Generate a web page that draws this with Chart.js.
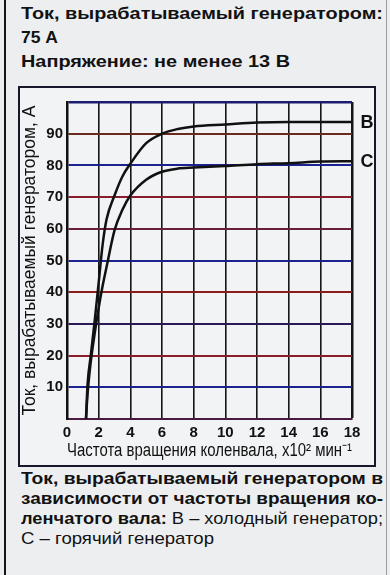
<!DOCTYPE html>
<html>
<head>
<meta charset="utf-8">
<script src="https://cdn.jsdelivr.net/npm/chart.js@4.4.1/dist/chart.umd.min.js"></script>
<style>
html, body { margin: 0; padding: 0; }
body {
    width: 390px; height: 575px; position: relative; overflow: hidden;
    background: #eceef0; color: #121212;
    font-family: "Liberation Sans", Arial, sans-serif;
}
.frameL { position: absolute; left: 4px; top: 0; width: 2px; height: 575px; background: #151515; }
.frameR { position: absolute; left: 386px; top: 0; width: 1px; height: 575px; background: #9c9c9c; }
.line { position: absolute; left: 21px; font-size: 17px; white-space: nowrap; transform-origin: 0 0; }
.b { font-weight: bold; }
.box {
    position: absolute; left: 18px; top: 86px; width: 354px; height: 377px;
    border: 2px solid #16162c; background: #f2f3f5;
}
#generatorChart { display: block; }
</style>
</head>
<body>
<div class="frameL"></div>
<div class="frameR"></div>

<div class="line b" data-w="362" style="top:4px">Ток, вырабатываемый генератором:</div>
<div class="line b" data-w="37" style="top:28px">75 А</div>
<div class="line b" data-w="269" style="top:52px">Напряжение: не менее 13 В</div>

<div class="box"><canvas id="generatorChart" width="354" height="377"></canvas></div>

<div class="line b" data-w="362" style="top:469px">Ток, вырабатываемый генератором в</div>
<div class="line b" data-w="362" style="top:489px">зависимости от частоты вращения ко-</div>
<div class="line" data-w="362" style="top:509px"><span class="b">ленчатого вала:</span> В – холодный генератор;</div>
<div class="line" data-w="193" style="top:529px">С – горячий генератор</div>

<script>
// частота вращения, x100 мин-1
const rpm = [1.2, 1.3, 1.5, 1.75, 2, 2.25, 2.5, 3, 3.5, 4, 5, 6, 7, 8, 10, 12, 14, 16, 18];
// B - холодный генератор, А
const coldB = [0, 11, 20, 31, 43, 55, 63, 70.5, 76.5, 80.5, 87, 90, 91.5, 92.3, 92.9, 93.5, 93.7, 93.7, 93.7];
// C - горячий генератор, А
const hotC = [0, 8, 18, 27, 35, 42, 48, 59.5, 66, 70.5, 75.5, 78, 79, 79.3, 79.8, 80.4, 80.7, 81.2, 81.3];
const seriesNames = ['B', 'C'];

const gridColors = {
    0: '#3c1a48', 10: '#1c2290', 20: '#8a1c2c', 30: '#2a1a5a', 40: '#8a1c1c', 50: '#1c2290',
    60: '#6a1c3c', 70: '#8a1c2c', 80: '#1c2290', 90: '#6a2a1c', 100: '#1c1c70'
};

// растянуть строки текста по ширине, как в скане
document.querySelectorAll('.line').forEach(el => {
    const w = el.getBoundingClientRect().width;
    el.style.transform = 'scaleX(' + (parseFloat(el.dataset.w) / w) + ')';
});

const ctxGenerator = document.getElementById('generatorChart');

const dataGenerator = {
    datasets: [
        {
            label: seriesNames[0],
            data: rpm.map((x, i) => ({ x: x, y: coldB[i] })),
            borderColor: '#111',
            borderWidth: 2.5,
            pointRadius: 0,
            cubicInterpolationMode: 'monotone'
        },
        {
            label: seriesNames[1],
            data: rpm.map((x, i) => ({ x: x, y: hotC[i] })),
            borderColor: '#111',
            borderWidth: 2.5,
            pointRadius: 0,
            cubicInterpolationMode: 'monotone'
        }
    ]
};

// буквы B и C справа от кривых
const curveLabels = {
    id: 'curveLabels',
    afterDatasetsDraw(chart) {
        const c = chart.ctx;
        c.save();
        c.font = 'bold 18px "Liberation Sans", Arial, sans-serif';
        c.fillStyle = '#111';
        c.textAlign = 'center';
        c.textBaseline = 'middle';
        chart.data.datasets.forEach((ds, i) => {
            const pts = chart.getDatasetMeta(i).data;
            const last = pts[pts.length - 1];
            c.fillText(ds.label, chart.chartArea.right + 15, last.y + 1);
        });
        c.restore();
    }
};

const configGenerator = {
    type: 'line',
    data: dataGenerator,
    plugins: [curveLabels],
    options: {
        responsive: false,
        animation: false,
        layout: { padding: { top: 14, right: 22, left: 0, bottom: 0 } },
        plugins: {
            legend: { display: false },
            tooltip: { enabled: false }
        },
        scales: {
            x: {
                type: 'linear',
                min: 0,
                max: 18,
                afterFit: s => { s.height = 46; },
                ticks: {
                    stepSize: 2,
                    padding: 5,
                    color: '#111',
                    font: { family: '"Liberation Sans", Arial, sans-serif', size: 15, weight: 'bold' }
                },
                grid: {
                    drawTicks: false,
                    color: '#151515',
                    lineWidth: c => (c.tick && c.tick.value === 18 ? 2.5 : 1.6)
                },
                border: { color: '#4a1a40', width: 2 },
                title: {
                    display: true,
                    text: 'Частота вращения коленвала, х10² мин⁻¹',
                    color: '#111',
                    padding: { top: 4, bottom: 3 },
                    font: { family: '"Liberation Sans", Arial, sans-serif', size: 18 }
                }
            },
            y: {
                min: 0,
                max: 100,
                afterFit: s => { s.width = 47; },
                ticks: {
                    stepSize: 10,
                    padding: 4,
                    color: '#111',
                    font: { family: '"Liberation Sans", Arial, sans-serif', size: 15, weight: 'bold' },
                    callback: v => (v === 0 || v === 100 ? '' : v)
                },
                grid: {
                    drawTicks: false,
                    color: c => gridColors[c.tick ? c.tick.value : 0] || '#333',
                    lineWidth: c => (c.tick && c.tick.value === 100 ? 2.5 : 2)
                },
                border: { color: '#111', width: 2.5 },
                title: {
                    display: true,
                    text: 'Ток, вырабатываемый генератором, А',
                    color: '#111',
                    padding: { top: 0, bottom: 4 },
                    font: { family: '"Liberation Sans", Arial, sans-serif', size: 17.5 }
                }
            }
        }
    }
};

const lineChartGenerator = new Chart(ctxGenerator, configGenerator);
</script>
</body>
</html>
